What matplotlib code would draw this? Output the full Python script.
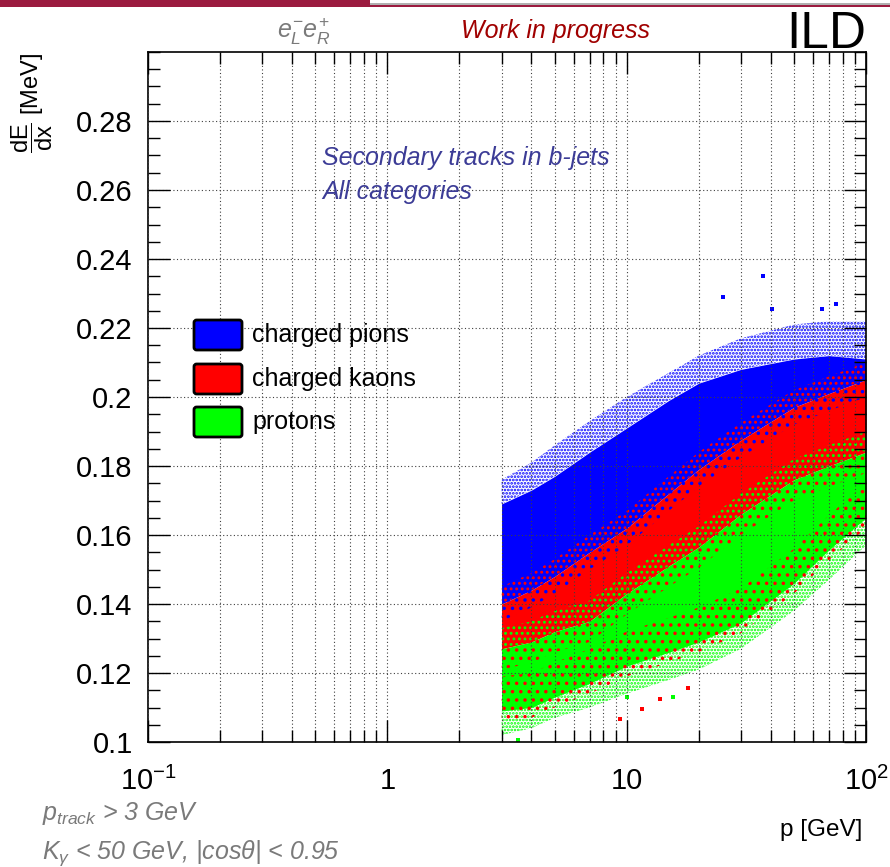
import matplotlib
matplotlib.use("Agg")
import matplotlib.pyplot as plt
from matplotlib.ticker import (LogLocator, FixedLocator, FixedFormatter,
                               MultipleLocator, NullFormatter)
from matplotlib.patches import Rectangle, FancyBboxPatch

plt.rcParams["font.family"] = ["Liberation Sans", "DejaVu Sans"]
plt.rcParams["mathtext.fontset"] = "custom"
plt.rcParams["mathtext.rm"] = "Liberation Sans"
plt.rcParams["mathtext.it"] = "Liberation Sans:italic"
plt.rcParams["mathtext.bf"] = "Liberation Sans:bold"
plt.rcParams["hatch.linewidth"] = 1.3

# ---- dE/dx bands of secondary tracks (envelopes of the scatter populations) ----
p_grid = [3, 4, 5, 7, 10, 15, 20, 30, 50, 70, 100]               # GeV

pion_fringe   = [0.176, 0.181, 0.186, 0.193, 0.200, 0.207, 0.212, 0.217, 0.221, 0.222, 0.222]
pion_top      = [0.169, 0.173, 0.177, 0.184, 0.191, 0.199, 0.204, 0.208, 0.211, 0.212, 0.211]
kaon_top      = [0.140, 0.144, 0.148, 0.155, 0.162, 0.172, 0.179, 0.1875, 0.197, 0.201, 0.205]
proton_top    = [0.127, 0.129, 0.132, 0.135, 0.143, 0.151, 0.1565, 0.166, 0.176, 0.180, 0.184]
proton_bottom = [0.109, 0.110, 0.113, 0.117, 0.122, 0.126, 0.129, 0.1345, 0.146, 0.1557, 0.165]
proton_fringe = [0.102, 0.104, 0.107, 0.110, 0.114, 0.118, 0.121, 0.127, 0.138, 0.147, 0.157]

# isolated tracks outside the dense bands
pion_out_p   = [37.2, 25.3, 75.0, 40.5, 65.6]
pion_out_v   = [0.235, 0.229, 0.227, 0.2255, 0.2255]
kaon_out_p   = [18.1, 9.4, 11.6, 13.8]
kaon_out_v   = [0.1157, 0.1067, 0.1096, 0.1125]
proton_out_p = [15.6, 10.0, 3.5]
proton_out_v = [0.113, 0.113, 0.1006]

species = ["charged pions", "charged kaons", "protons"]
colors = ["#0000ff", "#ff0000", "#00ff00"]

x_ticks = [0.1, 1, 10, 100]
x_ticklabels = [r"10$^{-1}$", "1", "10", r"10$^{2}$"]
y_ticks = [0.10, 0.12, 0.14, 0.16, 0.18, 0.20, 0.22, 0.24, 0.26, 0.28]
y_ticklabels = ["0.1", "0.12", "0.14", "0.16", "0.18", "0.2", "0.22", "0.24", "0.26", "0.28"]

W, H = 890, 867
fig = plt.figure(figsize=(W / 100, H / 100), dpi=100)


def fx(px):
    return px / W


def fy(py):
    return 1 - py / H


ax = fig.add_axes([fx(148), fy(742), fx(866) - fx(148), fy(52) - fy(742)])
ax.set_xscale("log")
ax.set_xlim(0.1, 100)
ax.set_ylim(0.1, 0.30)

blue, red, green = colors
mix = 0.005

# dense cores
ax.fill_between(p_grid, kaon_top, pion_top, color=blue, lw=0, zorder=1)
ax.fill_between(p_grid, proton_top, kaon_top, color=red, lw=0, zorder=1.1)
ax.fill_between(p_grid, proton_bottom, proton_top, color=green, lw=0, zorder=1.2)


# sparse fringes and mixing zones, drawn as dot patterns
def dots(lo, hi, col, pattern, z):
    ax.fill_between(p_grid, lo, hi, facecolor="none", edgecolor=col,
                    hatch=pattern, lw=0, zorder=z)


dots(pion_top, pion_fringe, blue, ".....", 1.3)
dots(kaon_top, [v + mix for v in kaon_top], red, "...", 1.3)
dots([v - mix for v in kaon_top], kaon_top, blue, "..", 1.35)
dots(proton_top, [v + 1.2 * mix for v in proton_top], green, "...", 1.3)
dots([v - 1.2 * mix for v in proton_top], proton_top, red, "..", 1.35)
dots(proton_fringe, proton_bottom, green, ".....", 1.3)
dots([v - 0.6 * mix for v in proton_bottom], [v + 2 * mix for v in proton_bottom], red, "..", 1.35)

ax.scatter(pion_out_p, pion_out_v, s=5, marker="s", color=blue, lw=0, zorder=1.4)
ax.scatter(kaon_out_p, kaon_out_v, s=5, marker="s", color=red, lw=0, zorder=1.4)
ax.scatter(proton_out_p, proton_out_v, s=5, marker="s", color=green, lw=0, zorder=1.4)

# axes, ticks and grid
ax.set_axisbelow(False)
ax.xaxis.set_major_locator(FixedLocator(x_ticks))
ax.xaxis.set_major_formatter(FixedFormatter(x_ticklabels))
ax.xaxis.set_minor_locator(LogLocator(base=10, subs=range(2, 10)))
ax.xaxis.set_minor_formatter(NullFormatter())
ax.yaxis.set_major_locator(FixedLocator(y_ticks))
ax.yaxis.set_major_formatter(FixedFormatter(y_ticklabels))
ax.yaxis.set_minor_locator(MultipleLocator(0.005))

ax.tick_params(which="both", direction="in", top=True, right=True,
               colors="black", width=1.0)
ax.tick_params(which="major", length=16, labelsize=21)
ax.tick_params(which="minor", length=8.5)
ax.tick_params(axis="x", which="major", pad=18)
ax.tick_params(axis="y", which="major", pad=11)
for s in ax.spines.values():
    s.set_linewidth(1.2)

grid_kw = dict(color="0.25", linestyle=(0, (1, 2.2)), linewidth=0.8)
ax.grid(True, axis="x", which="both", **grid_kw)
ax.grid(True, axis="y", which="major", **grid_kw)

# axis titles
fig.text(fx(862), fy(836), "p [GeV]", ha="right", va="baseline", fontsize=17.5)
fig.text(fx(32), fy(53), r"$\dfrac{\mathrm{dE}}{\mathrm{dx}}$ [MeV]", rotation=90,
         ha="center", va="top", fontsize=17)

# legend boxes
leg_y = [335, 379, 422]
for yc, name, col in zip(leg_y, species, colors):
    box = FancyBboxPatch((fx(194), fy(yc + 15)), fx(48), fy(yc - 15) - fy(yc + 15),
                         boxstyle="round,pad=0,rounding_size=0.003",
                         transform=fig.transFigure, facecolor=col,
                         edgecolor="black", linewidth=2.0)
    fig.add_artist(box)
    fig.text(fx(252), fy(yc), name, ha="left", va="center", fontsize=18)

# annotations
fig.text(fx(322), fy(165), "Secondary tracks in b-jets", color="#3c3c96",
         style="italic", fontsize=18)
fig.text(fx(322), fy(199), "All categories", color="#3c3c96",
         style="italic", fontsize=18)
fig.text(fx(461), fy(38), "Work in progress", color="#a00000",
         style="italic", fontsize=18)
fig.text(fx(277), fy(38), r"$e^{-}_{L}e^{+}_{R}$", color="#7a7a7a", fontsize=18)
fig.text(fx(866), fy(48), "ILD", ha="right", va="baseline", fontsize=37)
fig.text(fx(42), fy(820), r"$p_{track}$ > 3 GeV", color="#7a7a7a",
         style="italic", fontsize=18)
fig.text(fx(42), fy(859), r"$K_{\gamma}$ < 50 GeV, |cos$\theta$| < 0.95", color="#7a7a7a",
         style="italic", fontsize=18)

# header rule
fig.add_artist(Rectangle((fx(0), fy(7)), fx(370), fy(0) - fy(7),
                         transform=fig.transFigure, color="#9b1b3f", lw=0))
fig.add_artist(Rectangle((fx(370), fy(5)), fx(520), fy(3.5) - fy(5),
                         transform=fig.transFigure, color="#b0b0b0", lw=0))
fig.add_artist(Rectangle((fx(370), fy(7)), fx(520), fy(5) - fy(7),
                         transform=fig.transFigure, color="#9b1b3f", lw=0))

fig.savefig("out.png", dpi=100)
